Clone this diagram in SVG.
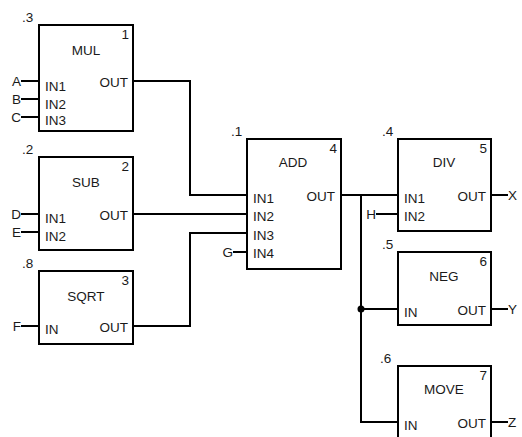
<svg xmlns="http://www.w3.org/2000/svg" width="522" height="437" viewBox="0 0 522 437">
<style>
.box{fill:#fff;stroke:#000;stroke-width:2}
.w{fill:none;stroke:#000;stroke-width:2}
text{font-family:"Liberation Sans",Arial,sans-serif;font-size:13.5px;fill:#1a1a1a}
.t{text-anchor:middle}
.e{text-anchor:end}
</style>
<rect width="522" height="437" fill="#fff"/>
<g id="connectors">
<path class="w" d="M21 81H39M21 99H39M21 117H39"/>
<path class="w" d="M21 214H39M21 232H39M21 326H39"/>
<path class="w" d="M133 81H190V195H247"/>
<path class="w" d="M133 214H247"/>
<path class="w" d="M133 326H190V233H247"/>
<path class="w" d="M233 252H247"/>
<path class="w" d="M341 195H398M361 195V422H398M361 309H398"/>
<path class="w" d="M376 214H398"/>
<path class="w" d="M491 195H508M491 309H508M491 422H508"/>
<circle cx="361" cy="309" r="3.5" fill="#000"/>
</g>
<g id="ext-labels">
<text class="e" x="21" y="86">A</text>
<text class="e" x="21" y="104">B</text>
<text class="e" x="21" y="122">C</text>
<text class="e" x="21" y="219">D</text>
<text class="e" x="21" y="237">E</text>
<text class="e" x="21" y="331">F</text>
<text class="e" x="233" y="257">G</text>
<text class="e" x="376" y="219">H</text>
<text x="508" y="200">X</text>
<text x="508" y="314">Y</text>
<text x="508" y="427">Z</text>
</g>
<g id="mul">
<rect class="box" x="39" y="25" width="94" height="106"/>
<text x="22" y="22">.3</text>
<text class="e" x="129" y="39">1</text>
<text class="t" x="86" y="55">MUL</text>
<text x="45" y="91">IN1</text>
<text x="45" y="109">IN2</text>
<text x="45" y="125">IN3</text>
<text class="e" x="128" y="87">OUT</text>
</g>
<g id="sub">
<rect class="box" x="39" y="157" width="94" height="93"/>
<text x="22" y="154">.2</text>
<text class="e" x="129" y="171">2</text>
<text class="t" x="86" y="187">SUB</text>
<text x="45" y="223">IN1</text>
<text x="45" y="241">IN2</text>
<text class="e" x="128" y="220">OUT</text>
</g>
<g id="sqrt">
<rect class="box" x="39" y="271" width="94" height="73"/>
<text x="22" y="268">.8</text>
<text class="e" x="129" y="285">3</text>
<text class="t" x="86" y="301">SQRT</text>
<text x="45" y="334">IN</text>
<text class="e" x="128" y="332">OUT</text>
</g>
<g id="add">
<rect class="box" x="247" y="139" width="94" height="130"/>
<text x="231" y="136">.1</text>
<text class="e" x="337" y="153">4</text>
<text class="t" x="293" y="167">ADD</text>
<text x="253" y="203">IN1</text>
<text x="253" y="221">IN2</text>
<text x="253" y="240">IN3</text>
<text x="253" y="258">IN4</text>
<text class="e" x="335" y="201">OUT</text>
</g>
<g id="div">
<rect class="box" x="398" y="139" width="93" height="92"/>
<text x="382" y="136">.4</text>
<text class="e" x="487" y="153">5</text>
<text class="t" x="444" y="167">DIV</text>
<text x="404" y="203">IN1</text>
<text x="404" y="221">IN2</text>
<text class="e" x="486" y="201">OUT</text>
</g>
<g id="neg">
<rect class="box" x="398" y="252" width="93" height="73"/>
<text x="382" y="249">.5</text>
<text class="e" x="487" y="266">6</text>
<text class="t" x="444" y="281">NEG</text>
<text x="404" y="317">IN</text>
<text class="e" x="486" y="315">OUT</text>
</g>
<g id="move">
<rect class="box" x="398" y="366" width="93" height="80"/>
<text x="380" y="363">.6</text>
<text class="e" x="487" y="380">7</text>
<text class="t" x="444" y="394">MOVE</text>
<text x="404" y="430">IN</text>
<text class="e" x="486" y="428">OUT</text>
</g>
</svg>
